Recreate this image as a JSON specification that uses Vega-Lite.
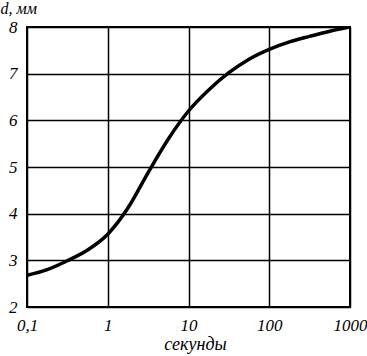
{
  "$schema": "https://vega.github.io/schema/vega-lite/v6.json",
  "autosize": "none",
  "width": 323,
  "height": 280,
  "padding": {"left": 27, "top": 27, "right": 17, "bottom": 49},
  "background": "white",
  "config": {
    "view": {"stroke": "black", "strokeWidth": 2},
    "font": "Liberation Serif"
  },
  "data": {
    "values": [
      {"t": 0.1, "d": 2.68},
      {"t": 0.178, "d": 2.8},
      {"t": 0.316, "d": 2.99},
      {"t": 0.562, "d": 3.22},
      {"t": 1, "d": 3.56},
      {"t": 1.778, "d": 4.12},
      {"t": 3.162, "d": 4.88},
      {"t": 5.623, "d": 5.6},
      {"t": 10, "d": 6.2},
      {"t": 17.78, "d": 6.65},
      {"t": 31.62, "d": 7.02},
      {"t": 56.23, "d": 7.31},
      {"t": 100, "d": 7.52},
      {"t": 177.8, "d": 7.68},
      {"t": 316.2, "d": 7.8},
      {"t": 562.3, "d": 7.91},
      {"t": 1000, "d": 8.0}
    ]
  },
  "mark": {"type": "line", "color": "black", "strokeWidth": 3.5, "interpolate": "monotone", "clip": true},
  "encoding": {
    "x": {
      "field": "t", "type": "quantitative",
      "scale": {"type": "log", "domain": [0.1, 1000], "nice": false},
      "axis": {
        "values": [0.1, 1, 10, 100, 1000],
        "labelExpr": "replace(format(datum.value, '~g'), '.', ',')",
        "title": "секунды",
        "titleFont": "Liberation Serif", "titleFontStyle": "italic", "titleFontWeight": "normal",
        "titleFontSize": 18, "titleColor": "black", "titlePadding": 2, "titleX": 168,
        "labelFont": "Liberation Serif", "labelFontStyle": "italic", "labelFontSize": 17,
        "labelColor": "black", "labelPadding": 10, "labelFlush": false, "labelOverlap": false,
        "ticks": false, "domain": false,
        "grid": true, "gridColor": "black", "gridWidth": 1.5, "gridOpacity": 1
      }
    },
    "y": {
      "field": "d", "type": "quantitative",
      "scale": {"domain": [2, 8], "nice": false, "zero": false},
      "axis": {
        "values": [2, 3, 4, 5, 6, 7, 8],
        "title": "d, мм",
        "titleAngle": 0, "titleAlign": "left", "titleBaseline": "alphabetic",
        "titleX": -27, "titleY": -14,
        "titleFont": "Liberation Serif", "titleFontStyle": "italic", "titleFontWeight": "normal",
        "titleFontSize": 16, "titleColor": "black",
        "labelFont": "Liberation Serif", "labelFontStyle": "italic", "labelFontSize": 17,
        "labelColor": "black", "labelPadding": 10, "labelFlush": false,
        "ticks": false, "domain": false,
        "grid": true, "gridColor": "black", "gridWidth": 1.5, "gridOpacity": 1
      }
    }
  }
}
